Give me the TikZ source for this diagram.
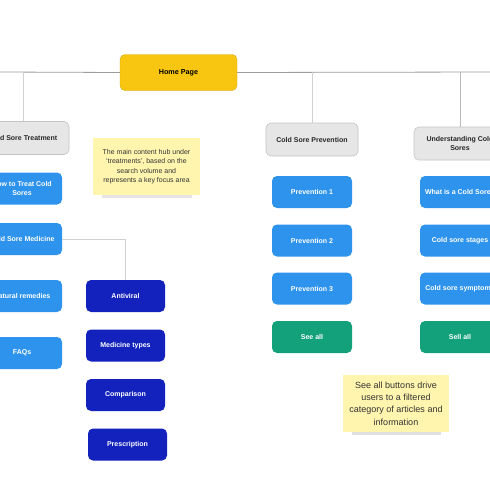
\documentclass[tikz,border=0pt]{standalone}
\usepackage{fontspec}
\setmainfont{Liberation Sans}
\definecolor{homeY}{HTML}{F8C610}
\definecolor{greyF}{HTML}{E6E6E6}
\definecolor{greyD}{HTML}{C4C4C4}
\definecolor{blueL}{HTML}{2E93EC}
\definecolor{blueD}{HTML}{1322BC}
\definecolor{greenS}{HTML}{13A17B}
\definecolor{noteY}{HTML}{FFF5AE}
\definecolor{lineG}{HTML}{9E9E9E}
\definecolor{lineL}{HTML}{D0D0D0}
\begin{document}
\begin{tikzpicture}[x=1pt,y=-1pt,
  box/.style={rounded corners=5pt,inner sep=1pt,align=center,font=\fontsize{7}{9.2}\selectfont\bfseries,minimum height=32pt},
  homebox/.style={box,fill=homeY,draw=homeY!85!black,line width=0.4pt,minimum width=117pt,minimum height=36pt,font=\fontsize{7.2}{8}\selectfont\bfseries},
  catbox/.style={box,fill=greyF,draw=greyD,line width=0.6pt,minimum width=92pt,minimum height=33pt,text=black!85},
  lbox/.style={box,fill=blueL,text=white,minimum width=80pt},
  dbox/.style={box,fill=blueD,text=white,minimum width=79pt},
  gbox/.style={box,fill=greenS,text=white,minimum width=80pt},
  note/.style={fill=noteY,inner sep=1pt,align=center,text=black!80},
  bus/.style={draw=lineG,line width=0.8pt},
  link/.style={draw=lineL,line width=0.8pt}]
\useasboundingbox (0,0) rectangle (490,490);
\clip (0,0) rectangle (490,490);
\fill[white] (0,0) rectangle (490,490);

% bus
\coordinate (busL) at (0,72);
\coordinate (busR) at (490,72);

\node[homebox] (home) at (178.5,72.5) {Home Page};
\node[catbox] (cst) at (23,138) {Cold Sore Treatment};
\node[catbox] (csp) at (312,139.5) {Cold Sore Prevention};
\node[catbox] (ucs) at (460,143.5) {Understanding Cold\\Sores};

\draw[bus] (busL) -- (home.west);
\draw[bus] (home.east) -- (busR);
\draw[link] (cst.north |- busL) -- (cst.north);
\draw[link] (csp.north |- busL) -- (csp.north);
\draw[bus,draw=lineG!70] (ucs.north |- busL) -- (ucs.north);

% left column
\node[lbox] (t1) at (22,188.5) {How to Treat Cold\\Sores};
\node[lbox] (t2) at (22,239) {Cold Sore Medicine};
\node[lbox] (t3) at (22,296) {Natural remedies};
\node[lbox] (t4) at (22,353) {FAQs};

% medicine column
\node[dbox] (m1) at (125.5,296) {Antiviral};
\node[dbox] (m2) at (125.5,345.5) {Medicine types};
\node[dbox] (m3) at (125.5,395) {Comparison};
\node[dbox] (m4) at (127.5,444.5) {Prescription};
\draw[link] (t2.east) -| (m1.north);

% prevention column
\node[lbox] (p1) at (312,192) {Prevention 1};
\node[lbox] (p2) at (312,240.5) {Prevention 2};
\node[lbox] (p3) at (312,288.5) {Prevention 3};
\node[gbox] (p4) at (312,337) {See all};

% understanding column
\node[lbox] (u1) at (460,192) {What is a Cold Sore?};
\node[lbox] (u2) at (460,240.5) {Cold sore stages};
\node[lbox] (u3) at (460,288.5) {Cold sore symptoms};
\node[gbox] (u4) at (460,337) {Sell all};

% notes
\fill[black,opacity=0.10] (102,192) rectangle (192,198);
\fill[black,opacity=0.12] (352,429) rectangle (441,435);
\node[note,minimum width=107pt,minimum height=57pt,font=\fontsize{7}{9.5}\selectfont] (n1) at (146.5,166.5)
  {The main content hub under\\`treatments', based on the\\search volume and\\represents a key focus area};
\node[note,minimum width=106pt,minimum height=57pt,font=\fontsize{9}{12.3}\selectfont] (n2) at (396,403.5)
  {See all buttons drive\\users to a filtered\\category of articles and\\information};
\end{tikzpicture}
\end{document}
